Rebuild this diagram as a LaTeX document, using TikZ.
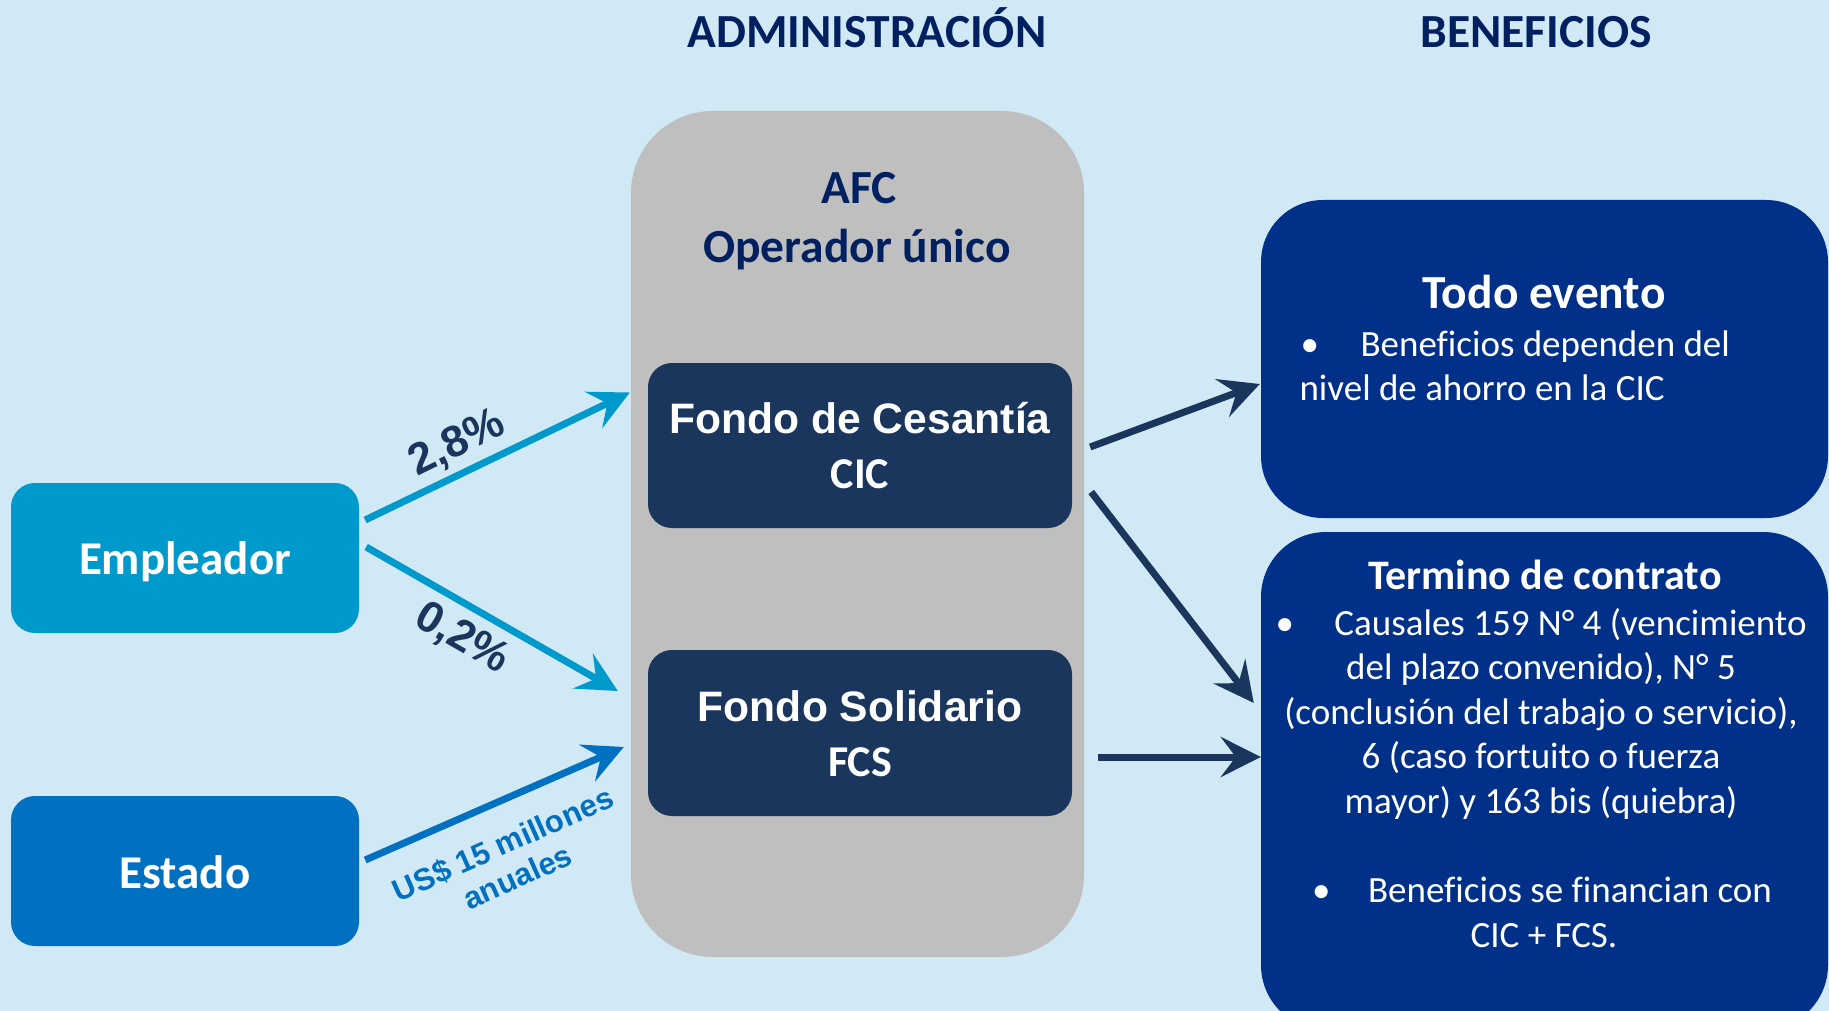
\documentclass[tikz,border=0pt]{standalone}
\usepackage{fontspec}
\setmainfont{Carlito}[Ligatures=CommonOff]
\newfontfamily\arialf{Liberation Sans}
\usetikzlibrary{arrows.meta,calc}
\definecolor{bgc}{HTML}{D1E8F5}
\definecolor{headc}{HTML}{002060}
\definecolor{grayc}{HTML}{BFBFBF}
\definecolor{darkc}{HTML}{1B365D}
\definecolor{benc}{HTML}{003087}
\definecolor{empc}{HTML}{0099CC}
\definecolor{estc}{HTML}{0070C0}
\tikzset{
  boxnode/.style={draw=none, inner sep=0pt, rounded corners=#1},
  headtxt/.style={anchor=base, text=headc, font=\fontsize{47.5}{56}\selectfont\bfseries},
  whitetxt/.style={anchor=base, text=white, font=\fontsize{47}{56}\selectfont\bfseries},
  arialtxt/.style={anchor=base, text=white, font=\arialf\fontsize{42.6}{48}\selectfont\bfseries},
  bodytxt/.style={anchor=base, text=white, font=\fontsize{37}{44.5}\selectfont},
  flow/.style={line width=7pt, -{Stealth[length=40pt, width=40pt, inset=15pt]}},
  pctlabel/.style={text=darkc, font=\arialf\fontsize{44}{50}\selectfont\bfseries, inner sep=0pt},
}
\newcommand{\bul}[1]{\makebox[#1][l]{\textbullet}}
\begin{document}
\begin{tikzpicture}[x=1pt,y=-1pt]
\useasboundingbox (0,0) rectangle (1829,1011);
\fill[bgc] (0,0) rectangle (1829,1011);
\clip (0,0) rectangle (1829,1011);

% headers
\node[headtxt] (hadm) at (867,48) {ADMINISTRACIÓN};
\node[headtxt] (hben) at (1536,48) {BENEFICIOS};

% gray AFC box
\node[boxnode=82pt, fill=grayc, minimum width=453pt, minimum height=846pt] (afc) at (857.5,534) {};
\node[headtxt] (afct1) at (859,204) {AFC};
\node[headtxt] (afct2) at (857,262) {Operador único};

% fund boxes
\node[boxnode=24pt, fill=darkc, minimum width=424pt, minimum height=165pt] (cic) at (860,445.5) {};
\node[arialtxt] (cict1) at (860,433) {Fondo de Cesantía};
\node[whitetxt, font=\fontsize{44}{50}\selectfont\bfseries] (cict2) at (860,488) {CIC};
\node[boxnode=24pt, fill=darkc, minimum width=424pt, minimum height=166pt] (fcs) at (860,733) {};
\node[arialtxt] (fcst1) at (860,721) {Fondo Solidario};
\node[whitetxt, font=\fontsize{44}{50}\selectfont\bfseries] (fcst2) at (860,776) {FCS};

% source boxes
\node[boxnode=24pt, fill=empc, minimum width=348pt, minimum height=150pt] (emp) at (185,558) {};
\node[whitetxt] (empt) at (185,574) {Empleador};
\node[boxnode=24pt, fill=estc, minimum width=348pt, minimum height=150pt] (est) at (185,871) {};
\node[whitetxt] (estt) at (185,888) {Estado};

% benefit boxes
\node[boxnode=62pt, fill=benc, minimum width=567pt, minimum height=318pt] (todo) at (1544.5,359) {};
\node[whitetxt, font=\fontsize{47.5}{56}\selectfont\bfseries] (todot) at (1544,308) {Todo evento};
\node[bodytxt, anchor=base west] (todob1) at (1297,356) {\bul{60pt}Beneficios dependen del};
\node[bodytxt, anchor=base west] (todob2) at (1296,400) {nivel de ahorro en la CIC};

\node[boxnode=65pt, fill=benc, minimum width=567pt, minimum height=498pt] (term) at (1544.5,781) {};
\node[whitetxt, font=\fontsize{42}{50}\selectfont\bfseries] (termt) at (1545,589) {Termino de contrato};
\node[bodytxt] (tl1) at (1541,635) {\bul{59pt}Causales 159 N° 4 (vencimiento};
\node[bodytxt] (tl2) at (1541,679.5) {del plazo convenido), N° 5};
\node[bodytxt] (tl3) at (1541,724) {(conclusión del trabajo o servicio),};
\node[bodytxt] (tl4) at (1541,768.5) {6 (caso fortuito o fuerza};
\node[bodytxt] (tl5) at (1541,813) {mayor) y 163 bis (quiebra)};
\node[bodytxt] (tl6) at (1542,902) {\bul{56pt}Beneficios se financian con};
\node[bodytxt] (tl7) at (1544,947) {CIC + FCS.};

% input arrows
\draw[flow, empc] ($(emp.east)+(6,-38)$) -- ($(cic.west)+(-18,-53)$);
\draw[flow, empc] ($(emp.east)+(7,-11)$) -- ($(fcs.west)+(-30,-42)$);
\draw[flow, estc] ($(est.east)+(6,-11)$) -- ($(fcs.west)+(-24,14)$);

% labels
\node[pctlabel, rotate=26] (l28) at (457,444) {2,8\%};
\node[pctlabel, rotate=-30] (l02) at (462,639) {0,2\%};
\node[pctlabel, rotate=24, text=estc, align=center, font=\arialf\fontsize{31}{36}\selectfont\bfseries] (lus) at (510,860) {US\$ 15 millones\\anuales};

% output arrows
\draw[flow, darkc] ($(cic.east)+(18,1.5)$) -- ($(todo.west)+(-1,25)$);
\draw[flow, darkc] ($(cic.east)+(19,46.5)$) -- ($(term.west)+(-7,-78)$);
\draw[flow, darkc] ($(fcs.east)+(26,24)$) -- ($(term.west)+(0,-24)$);
\end{tikzpicture}
\end{document}
